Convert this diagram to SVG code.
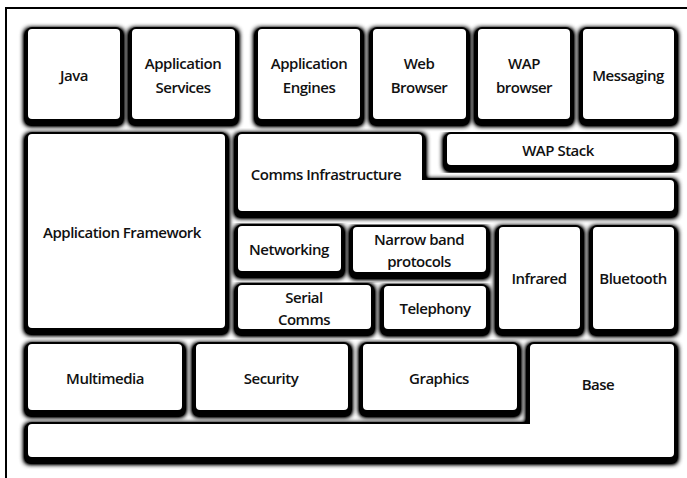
<svg xmlns="http://www.w3.org/2000/svg" width="687" height="478" viewBox="0 0 687 478">
<defs>
<filter id="sh" x="-10%" y="-10%" width="120%" height="130%">
<feMorphology in="SourceAlpha" operator="dilate" radius="1.5" result="d"/>
<feGaussianBlur in="d" stdDeviation="2.5" result="b"/>
<feOffset in="b" dx="0" dy="3" result="o"/>
<feComponentTransfer in="o" result="s"><feFuncA type="linear" slope="1.8"/></feComponentTransfer>
<feMerge><feMergeNode in="s"/><feMergeNode in="SourceGraphic"/></feMerge>
</filter>
<style>
.b{fill:#fff;stroke:#000;stroke-width:2;filter:url(#sh)}
text{font-family:"Open Sans","Liberation Sans",sans-serif;font-size:15px;font-weight:600;fill:#111;text-anchor:middle;dominant-baseline:central;letter-spacing:-0.5px}
</style>
</defs>
<rect width="687" height="478" fill="#fff"/>
<path d="M6,478 V8 H687" fill="none" stroke="#000" stroke-width="2"/>
<g id="java"><rect class="b" x="27" y="28" width="94" height="92" rx="5"/><text x="74" y="75">Java</text></g>
<g id="appservices"><rect class="b" x="131" y="28" width="105" height="92" rx="5"/><text x="183" y="63">Application</text><text x="183" y="87">Services</text></g>
<g id="appengines"><rect class="b" x="257" y="28" width="104" height="92" rx="5"/><text x="309" y="63">Application</text><text x="309" y="87">Engines</text></g>
<g id="webbrowser"><rect class="b" x="372" y="28" width="95" height="92" rx="5"/><text x="419" y="63">Web</text><text x="419" y="87">Browser</text></g>
<g id="wapbrowser"><rect class="b" x="477" y="28" width="94" height="92" rx="5"/><text x="524" y="63">WAP</text><text x="524" y="87">browser</text></g>
<g id="messaging"><rect class="b" x="582" y="28" width="93" height="92" rx="5"/><text x="628" y="75">Messaging</text></g>
<g id="appframework"><rect class="b" x="27" y="133" width="199" height="196" rx="5"/><text x="122" y="232">Application Framework</text></g>
<g id="comms"><path class="b" d="M242,133 H418 Q423,133 423,138 V179 H670 Q675,179 675,184 V207 Q675,212 670,212 H242 Q237,212 237,207 V138 Q237,133 242,133 Z"/><text x="326" y="174">Comms Infrastructure</text></g>
<g id="wapstack"><rect class="b" x="446" y="133" width="229" height="33" rx="5"/><text x="558" y="150">WAP Stack</text></g>
<g id="networking"><rect class="b" x="237" y="225" width="105" height="47" rx="5"/><text x="289" y="249">Networking</text></g>
<g id="narrowband"><rect class="b" x="352" y="226" width="135" height="47" rx="5"/><text x="419" y="239">Narrow band</text><text x="419" y="261">protocols</text></g>
<g id="serial"><rect class="b" x="237" y="284" width="135" height="46" rx="5"/><text x="304" y="297">Serial</text><text x="304" y="319">Comms</text></g>
<g id="telephony"><rect class="b" x="383" y="285" width="104" height="45" rx="5"/><text x="435" y="308">Telephony</text></g>
<g id="infrared"><rect class="b" x="498" y="226" width="83" height="104" rx="5"/><text x="539" y="278">Infrared</text></g>
<g id="bluetooth"><rect class="b" x="592" y="226" width="83" height="104" rx="5"/><text x="633" y="278">Bluetooth</text></g>
<g id="multimedia"><rect class="b" x="27" y="343" width="156" height="68" rx="5"/><text x="105" y="378">Multimedia</text></g>
<g id="security"><rect class="b" x="195" y="343" width="154" height="68" rx="5"/><text x="271" y="378">Security</text></g>
<g id="graphics"><rect class="b" x="362" y="343" width="156" height="68" rx="5"/><text x="439" y="378">Graphics</text></g>
<g id="base"><path class="b" d="M534,343 H670 Q675,343 675,348 V453 Q675,458 670,458 H32 Q27,458 27,453 V428 Q27,423 32,423 H529 V348 Q529,343 534,343 Z"/><text x="598" y="384">Base</text></g>
<g id="connectors"></g>
</svg>
